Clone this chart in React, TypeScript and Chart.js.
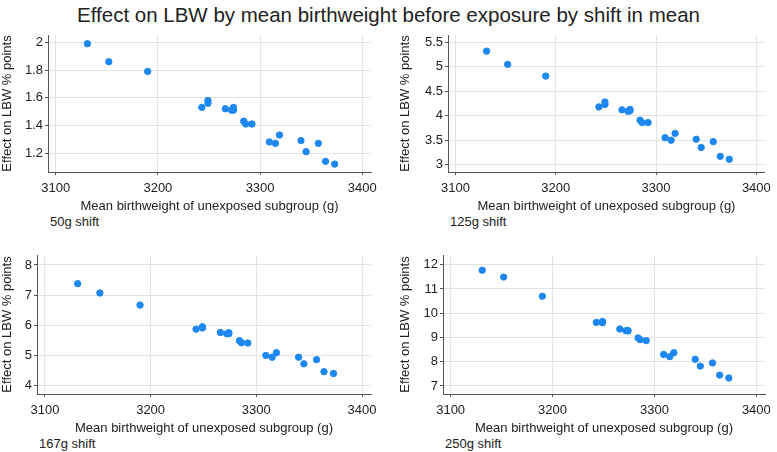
import { useEffect, useRef } from "react"
import Chart from "chart.js/auto"

const birthweight = [
  3131, 3152, 3190, 3243, 3249, 3249, 3266, 3272, 3274, 3274, 3284, 3286,
  3292, 3309, 3315, 3319, 3340, 3345, 3357, 3364, 3373,
]
const shift50 = [
  1.99, 1.86, 1.79, 1.53, 1.58, 1.56, 1.52, 1.51, 1.53, 1.51, 1.43, 1.41,
  1.41, 1.28, 1.27, 1.33, 1.29, 1.21, 1.27, 1.14, 1.12,
]
const shift125 = [
  5.32, 5.05, 4.81, 4.18, 4.28, 4.23, 4.12, 4.09, 4.13, 4.1, 3.91, 3.86,
  3.86, 3.55, 3.5, 3.64, 3.52, 3.35, 3.47, 3.17, 3.11,
]
const shift167 = [
  7.38, 7.07, 6.67, 5.87, 5.95, 5.91, 5.76, 5.72, 5.75, 5.72, 5.49, 5.42,
  5.41, 5.0, 4.94, 5.09, 4.94, 4.72, 4.86, 4.46, 4.4,
]
const shift250 = [
  11.77, 11.49, 10.7, 9.62, 9.66, 9.61, 9.35, 9.28, 9.29, 9.27, 8.98, 8.91,
  8.87, 8.3, 8.21, 8.37, 8.1, 7.82, 7.95, 7.45, 7.33,
]

const xTicks = [3100, 3200, 3300, 3400]
const yTicks50 = [1.2, 1.4, 1.6, 1.8, 2]
const yTicks125 = [3, 3.5, 4, 4.5, 5, 5.5]
const yTicks167 = [4, 5, 6, 7, 8]
const yTicks250 = [7, 8, 9, 10, 11, 12]

const shiftLabels = ["50g shift", "125g shift", "167g shift", "250g shift"]

const FONT = "'Liberation Sans', Arial, sans-serif"
const DOT = "rgb(30, 136, 240)"
const TEXT = 13

type PanelProps = {
  values: number[]
  yTicks: number[]
  yMin: number
  yMax: number
  label: string
  left: number
  top: number
  width: number
  height: number
  padLeft: number
  padRight: number
  yWidth: number
}

function Panel(p: PanelProps) {
  const canvasRef = useRef<HTMLCanvasElement>(null)

  useEffect(() => {
    if (!canvasRef.current) return
    const grid = {
      color: "#e4e4e4",
      borderDash: [5, 4],
      tickBorderDash: [],
      tickColor: "#555",
      tickLength: 3,
      lineWidth: 1,
    }
    const chart = new Chart(canvasRef.current, {
      type: "scatter",
      data: {
        datasets: [
          {
            data: birthweight.map((x, i) => ({ x, y: p.values[i] })),
            backgroundColor: DOT,
            borderColor: DOT,
            pointRadius: 3.2,
            pointHoverRadius: 3.2,
          },
        ],
      },
      options: {
        animation: false,
        responsive: false,
        devicePixelRatio: 1,
        layout: { padding: { top: 10, right: p.padRight, left: p.padLeft, bottom: 0 } },
        plugins: { legend: { display: false }, tooltip: { enabled: false } },
        scales: {
          x: {
            type: "linear",
            min: 3092.5,
            max: 3408.5,
            afterBuildTicks: (s: any) => {
              s.ticks = xTicks.map((v) => ({ value: v }))
            },
            afterFit: (s: any) => {
              s.height = 42
            },
            grid,
            border: { color: "#555", width: 1 },
            ticks: {
              color: "#222",
              padding: 6,
              maxRotation: 0,
              font: { family: FONT, size: TEXT },
              callback: (v: any) => String(v),
            },
            title: {
              display: true,
              text: "Mean birthweight of unexposed subgroup (g)",
              color: "#222",
              padding: 0,
              font: { family: FONT, size: TEXT, lineHeight: 1.15 },
            },
          },
          y: {
            type: "linear",
            min: p.yMin,
            max: p.yMax,
            afterBuildTicks: (s: any) => {
              s.ticks = p.yTicks.map((v) => ({ value: v }))
            },
            afterFit: (s: any) => {
              s.width = p.yWidth
            },
            grid,
            border: { color: "#555", width: 1 },
            ticks: {
              color: "#222",
              padding: 2,
              font: { family: FONT, size: TEXT },
              callback: (v: any) => String(v),
            },
            title: {
              display: true,
              text: "Effect on LBW % points",
              color: "#222",
              padding: 0,
              font: { family: FONT, size: TEXT, lineHeight: 1.15 },
            },
          },
        },
      },
    })
    return () => {
      chart.destroy()
    }
  }, [])

  return (
    <>
      <div style={{ position: "absolute", left: p.left, top: p.top, width: p.width, height: p.height }}>
        <canvas ref={canvasRef} width={p.width} height={p.height} />
      </div>
      <div
        style={{
          position: "absolute",
          left: p.left + p.padLeft + p.yWidth + 2,
          top: p.top + p.height,
          fontFamily: FONT,
          fontSize: TEXT,
          color: "#222",
          lineHeight: "15px",
        }}
      >
        {p.label}
      </div>
    </>
  )
}

export default function App() {
  return (
    <div
      style={{
        position: "absolute",
        left: 0,
        top: 0,
        width: 777,
        height: 452,
        background: "#fff",
        overflow: "hidden",
      }}
    >
      <div
        style={{
          position: "absolute",
          left: 0,
          top: 3,
          width: 777,
          textAlign: "center",
          fontFamily: FONT,
          fontSize: 20.5,
          color: "#222",
          lineHeight: "24px",
        }}
      >
        Effect on LBW by mean birthweight before exposure by shift in mean
      </div>
      <Panel values={shift50} yTicks={yTicks50} yMin={1.063} yMax={2.053} label={shiftLabels[0]}
        left={0} top={25} width={385} height={189} padLeft={0} padRight={14} yWidth={48} />
      <Panel values={shift125} yTicks={yTicks125} yMin={2.85} yMax={5.65} label={shiftLabels[1]}
        left={390} top={25} width={387} height={189} padLeft={8} padRight={7} yWidth={50} />
      <Panel values={shift167} yTicks={yTicks167} yMin={3.72} yMax={8.33} label={shiftLabels[2]}
        left={0} top={245} width={385} height={191} padLeft={0} padRight={14} yWidth={37} />
      <Panel values={shift250} yTicks={yTicks250} yMin={6.67} yMax={12.4} label={shiftLabels[3]}
        left={390} top={245} width={387} height={191} padLeft={8} padRight={7} yWidth={45} />
    </div>
  )
}
